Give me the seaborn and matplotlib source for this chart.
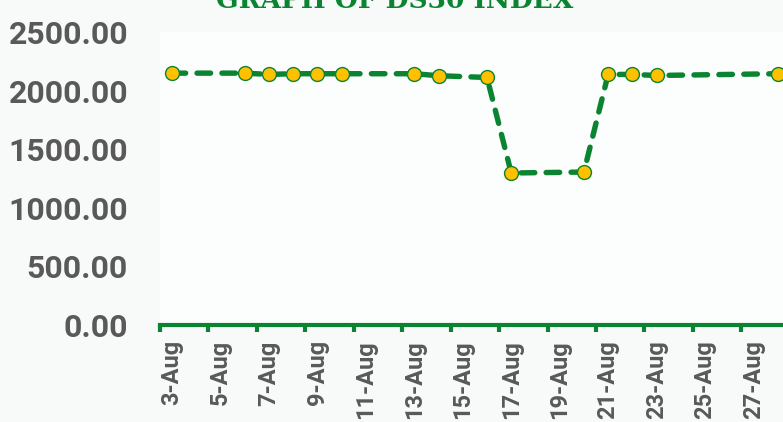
import matplotlib
matplotlib.use("Agg")
import matplotlib.pyplot as plt
import seaborn as sns
import pandas as pd

dates = ["3-Aug", "6-Aug", "7-Aug", "8-Aug", "9-Aug", "10-Aug", "13-Aug", "14-Aug",
         "16-Aug", "17-Aug", "20-Aug", "21-Aug", "22-Aug", "23-Aug", "28-Aug"]
values = [2149, 2149, 2138, 2144, 2144, 2144, 2144, 2127,
          2112, 1297, 1305, 2138, 2138, 2129, 2144]
tick_labels = ["3-Aug", "5-Aug", "7-Aug", "9-Aug", "11-Aug", "13-Aug", "15-Aug",
               "17-Aug", "19-Aug", "21-Aug", "23-Aug", "25-Aug", "27-Aug"]
y_ticks = [0, 500, 1000, 1500, 2000, 2500]
title = "GRAPH OF DS30 INDEX"

GREEN = "#0b8431"
YELLOW = "#ffc000"
GRAY = "#595959"

sns.set_theme(style="white")
plt.rcParams["font.family"] = ["Roboto", "DejaVu Sans"]

df = pd.DataFrame({"day": [int(d.split("-")[0]) for d in dates], "value": values})

fig = plt.figure(figsize=(7.83, 4.22), dpi=100, facecolor="#f8fafa")
ax = fig.add_axes([160 / 783, 1 - 325 / 422, 1 - 160 / 783, (325 - 32) / 422])
ax.set_facecolor("#fcfdfd")

sns.lineplot(data=df, x="day", y="value", ax=ax, color=GREEN, linewidth=3.9,
             marker="o", markersize=10, markerfacecolor=YELLOW,
             markeredgecolor=GREEN, markeredgewidth=1.0,
             dash_capstyle="round")
line = ax.lines[0]
line.set_linewidth(3.9)
line.set_dashes((2.5, 2.1))
line.set_dash_capstyle("round")

ax.set_xlim(2.5, 2.5 + (783 - 158) / 24.3)
ax.set_ylim(0, 2500)

# tick marks at slot boundaries, labels at slot centres
centers = [int(t.split("-")[0]) for t in tick_labels]
ax.set_xticks([c - 0.5 for c in centers])
ax.set_xticklabels([])
ax.set_xticks(centers, tick_labels, minor=True)
ax.tick_params(axis="x", which="major", length=5, width=3, color=GREEN, direction="out", bottom=True)
ax.tick_params(axis="x", which="minor", length=0, pad=11, bottom=True)
for lab in ax.get_xticklabels(minor=True):
    lab.set_rotation(90)
    lab.set_fontsize(17)
    lab.set_fontweight("bold")
    lab.set_color(GRAY)
    lab.set_va("top")
    lab.set_ha("center")

ax.set_yticks(y_ticks, [f"{v:.2f}" for v in y_ticks])
ax.tick_params(axis="y", length=0, pad=23)
for lab in ax.get_yticklabels():
    lab.set_fontsize(23)
    lab.set_fontweight("bold")
    lab.set_color(GRAY)

for s in ["top", "right", "left"]:
    ax.spines[s].set_visible(False)
ax.spines["bottom"].set_color(GREEN)
ax.spines["bottom"].set_linewidth(3)
ax.set_xlabel("")
ax.set_ylabel("")
ax.grid(False)

fig.text(395 / 783, 1 - 8 / 422, title, ha="center", va="baseline",
         fontsize=19, fontweight="bold", color=GREEN,
         family=["DejaVu Serif"])

fig.savefig("out.png", dpi=100, facecolor=fig.get_facecolor())
